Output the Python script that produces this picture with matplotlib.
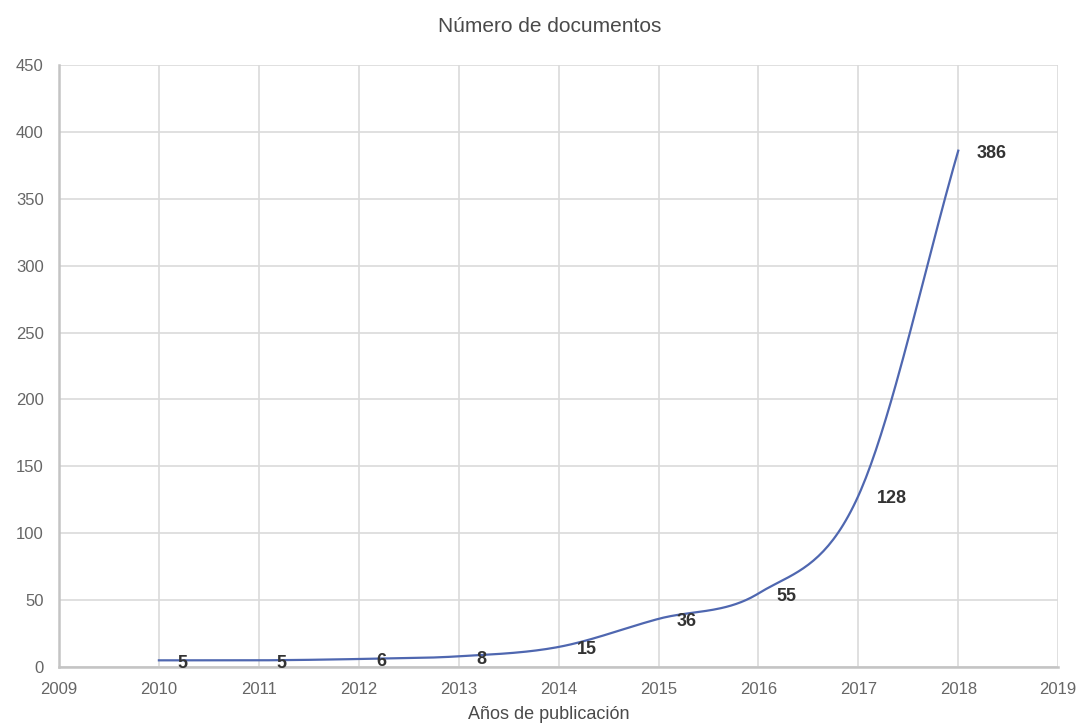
import numpy as np
import matplotlib.pyplot as plt

# Data
years = [2010, 2011, 2012, 2013, 2014, 2015, 2016, 2017, 2018]
docs = [5, 5, 6, 8, 15, 36, 55, 128, 386]

plt.rcParams['font.family'] = ['Liberation Sans', 'DejaVu Sans']


def smooth(xs, ys, n=40):
    # Catmull-Rom style cubic through the points (for drawing only)
    xs = np.asarray(xs, float)
    ys = np.asarray(ys, float)
    m = np.zeros_like(ys)
    m[1:-1] = (ys[2:] - ys[:-2]) / (xs[2:] - xs[:-2])
    m[0] = (ys[1] - ys[0]) / (xs[1] - xs[0])
    m[-1] = (ys[-1] - ys[-2]) / (xs[-1] - xs[-2])
    out_x, out_y = [], []
    for i in range(len(xs) - 1):
        h = xs[i + 1] - xs[i]
        t = np.linspace(0, 1, n, endpoint=False)
        h00 = 2 * t**3 - 3 * t**2 + 1
        h10 = t**3 - 2 * t**2 + t
        h01 = -2 * t**3 + 3 * t**2
        h11 = t**3 - t**2
        out_x.extend(xs[i] + t * h)
        out_y.extend(h00 * ys[i] + h10 * h * m[i] + h01 * ys[i + 1] + h11 * h * m[i + 1])
    out_x.append(xs[-1])
    out_y.append(ys[-1])
    return np.array(out_x), np.array(out_y)


fig = plt.figure(figsize=(10.82, 7.27), dpi=100)
ax = fig.add_axes([0.0545, 0.0825, 0.9235, 0.828])

sx, sy = smooth(years, docs)
ax.plot(sx, sy, color='#4f67b0', lw=1.6, zorder=3)

for x, y in zip(years, docs):
    ax.annotate(str(y), (x, y), xytext=(13, -2), textcoords='offset points',
                ha='left', va='center', fontsize=13, fontweight='bold',
                color='#333333', zorder=4)

ax.set_xlim(2009, 2019)
ax.set_ylim(0, 450)
ax.set_xticks(range(2009, 2020))
ax.set_yticks(range(0, 451, 50))
ax.grid(True, color='#dadada', lw=1.2)
ax.set_axisbelow(True)
for s in ['top', 'right']:
    ax.spines[s].set_visible(False)
ax.spines['left'].set_color('#c4c4c4')
ax.spines['left'].set_linewidth(1.8)
ax.spines['bottom'].set_color('#c4c4c4')
ax.spines['bottom'].set_linewidth(1.8)
ax.tick_params(length=0, labelsize=12, labelcolor='#666666')
ax.tick_params(axis='y', pad=11)
ax.tick_params(axis='x', pad=11)

fig.text(0.508, 0.963, 'Número de documentos', ha='center', va='center',
         fontsize=15, color='#4a4a4a')
fig.text(0.507, 0.017, 'Años de publicación', ha='center', va='center',
         fontsize=13, color='#4a4a4a')

fig.savefig('out.png', dpi=100)
